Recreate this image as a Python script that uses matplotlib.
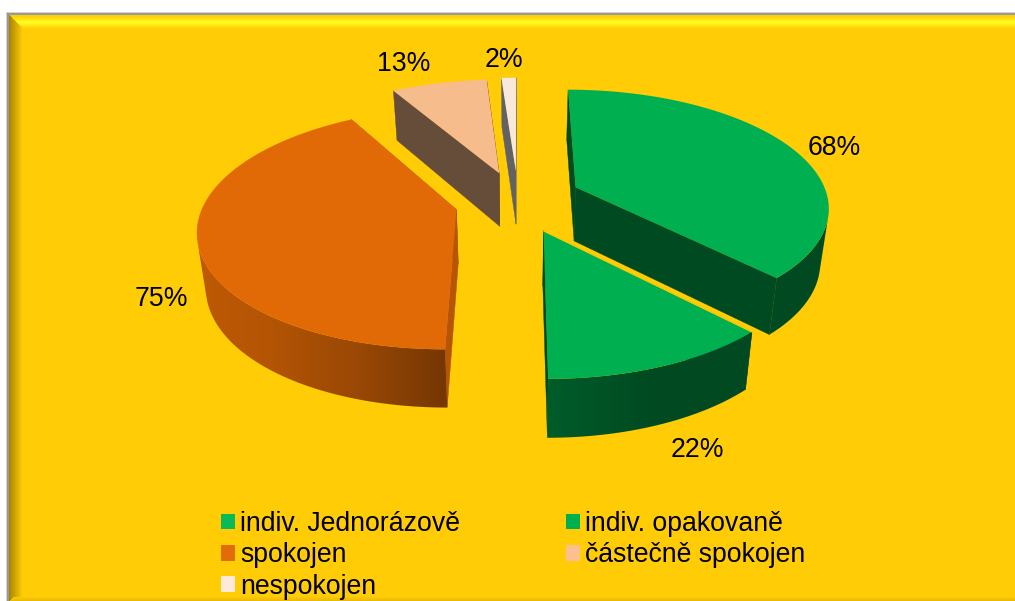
import numpy as np
import matplotlib
matplotlib.use("Agg")
import matplotlib.pyplot as plt
from matplotlib.patches import Polygon, Rectangle

plt.rcParams['font.family'] = ['Liberation Sans', 'DejaVu Sans']

categories = ['indiv. Jednorázově', 'indiv. opakovaně', 'spokojen', 'částečně spokojen', 'nespokojen']
values = [68, 22, 75, 13, 2]
labels = ['68%', '22%', '75%', '13%', '2%']
colors = ['#00b050', '#00b050', '#e26a06', '#f7bc8c', '#f9e8dc']
legend_colors = ['#0bb957', '#00b050', '#e26b0a', '#fac090', '#fdeada']
label_pos = [(834, 148), (697, 450), (161, 299), (404, 64), (504, 60)]
edge_shade = [0.42, 0.42, 0.80, 0.41, 0.42]
edge_gray = [False, False, False, False, True]
nudge = [(-2, -5), (-1, 0), (-2, -1), (-3, -3), (-2, -4)]
draw_order = [3, 4, 0, 2, 1]

W, H = 1015, 601
CX, CY = 520, 203
D, F, G = 6.5, 1640, 752
EXPLODE = 0.25
BG = '#ffcc05'


def project(X, Y):
    w = D - Y
    return CX + F * X / w, CY + G * Y / w


def lower(x, y, Y):
    depth = 54 + 4 * Y
    return CX + (x - CX) * 0.972, y + depth


def arc_shade(a):
    return np.interp(a, [0, 160, 180, 197, 218, 270, 360], [0.42, 0.42, 0.52, 0.68, 0.80, 0.88, 0.9])


def tone(col, s, gray=False):
    r = np.array(matplotlib.colors.to_rgb(col))
    if gray:
        r = np.array([r.mean()] * 3)
    return tuple(np.clip(r * s, 0, 1))


fig = plt.figure(figsize=(W / 100, H / 100), dpi=100, facecolor='white')
ax = fig.add_axes([0, 0, 1, 1])
ax.axis('off')

# panel with bevelled frame
L, T = 9, 15
img = np.ones((H, W, 3))
base = np.array(matplotlib.colors.to_rgb(BG))
img[T:, L:] = base
hi = np.array([1.0, 1.0, 0.13])
for y in range(T, 29):
    t = 1 - abs(y - 22) / 7
    row = base + (hi - base) * max(t, 0) ** 1.2
    x0 = L + (y - T)
    img[y, x0:] = row
for x in range(L, 22):
    s = 0.66 + 0.34 * (x - L) / 13
    y0 = T + (x - L)
    img[y0:, x] = base * s
for y in range(597, H):
    x0 = L + (H - y)
    img[y, x0:] = base * (1 - 0.02 * (y - 596))
img[13:15, 7:] = (0.6, 0.6, 0.6)
img[13:, 7:9] = (0.6, 0.6, 0.6)
img[12:13, 6:] = (0.82, 0.82, 0.82)
img[12:, 6:7] = (0.82, 0.82, 0.82)
ax.imshow(img, extent=(0, W, H, 0), aspect='auto', interpolation='nearest', zorder=0)

vals = np.array(values, float)
ang = np.concatenate([[0], np.cumsum(vals) / vals.sum() * 360])

z = 2
for i in draw_order:
    a0, a1 = ang[i], ang[i + 1]
    mid = np.radians((a0 + a1) / 2)
    ex, ey = EXPLODE * np.sin(mid), -EXPLODE * np.cos(mid)
    th = np.linspace(a0, a1, max(int((a1 - a0) * 1.5), 6))
    Xr = ex + np.sin(np.radians(th))
    Yr = ey - np.cos(np.radians(th))
    xr, yr = project(Xr, Yr)
    xr, yr = xr + nudge[i][0], yr + nudge[i][1]
    xa, ya = project(ex, ey)
    xa, ya = xa + nudge[i][0], ya + nudge[i][1]
    xrb, yrb = lower(xr, yr, Yr)
    xab, yab = lower(xa, ya, ey)
    c = tone(colors[i], edge_shade[i], edge_gray[i])
    # radial walls
    for k in (0, -1):
        ax.add_patch(Polygon([(xa, ya), (xr[k], yr[k]), (xrb[k], yrb[k]), (xab, yab)],
                             closed=True, fc=c, ec=c, lw=0.3, zorder=z))
    z += 1
    # outer wall: only the part of the rim that faces the viewer (up to the
    # silhouette), with a horizontal gradient clipped to the wall outline
    cross = np.gradient(xr) * (yrb - yr) - np.gradient(yr) * (xrb - xr)
    vis = cross < 0
    if vis.sum() > 1:
        wall_pts = np.vstack([np.column_stack([xr[vis], yr[vis]]),
                              np.column_stack([xrb[vis], yrb[vis]])[::-1]])
        x0, x1 = wall_pts[:, 0].min(), wall_pts[:, 0].max()
        y0, y1 = wall_pts[:, 1].min(), wall_pts[:, 1].max()
        xs = np.arange(np.floor(x0), np.ceil(x1) + 1)
        idx = np.argsort(xr[vis])
        ths = np.interp(xs, xr[vis][idx], th[vis][idx])
        grad = np.array([tone(colors[i], arc_shade(t)) for t in ths])[None, :, :]
        clip = Polygon(wall_pts, closed=True, transform=ax.transData, fc='none', ec='none')
        ax.add_patch(clip)
        im = ax.imshow(grad, extent=(xs[0], xs[-1], y1, y0), aspect='auto',
                       interpolation='bilinear', zorder=z)
        im.set_clip_path(clip)
    z += 1
    # top face
    pts = np.column_stack([np.r_[xa, xr], np.r_[ya, yr]])
    ax.add_patch(Polygon(pts, closed=True, fc=colors[i], ec='none', zorder=z))
    z += 1
    if i == 1:
        ax.plot([xa, xr[0]], [ya, yr[0]], color=BG, lw=1.0, zorder=z, solid_capstyle='butt')
        z += 1

ax.set_xlim(0, W)
ax.set_ylim(H, 0)

for t, (x, y) in zip(labels, label_pos):
    ax.text(x, y, t, ha='center', va='center', fontsize=19.2, color='black', zorder=50)

order = [0, 2, 4, 1, 3]
handles = [Rectangle((0, 0), 1, 1, fc=legend_colors[i], ec='none') for i in order]
leg = ax.legend(handles, [categories[i] for i in order], ncol=2,
                loc='upper left', bbox_to_anchor=(221 / W, 1 - 511 / H),
                frameon=False, fontsize=19.2, handlelength=0.52, handleheight=0.52,
                handletextpad=0.19, columnspacing=3.98, labelspacing=0.2,
                borderaxespad=0, borderpad=0)
leg.set_zorder(50)

fig.savefig('out.png', dpi=100, facecolor='white')
